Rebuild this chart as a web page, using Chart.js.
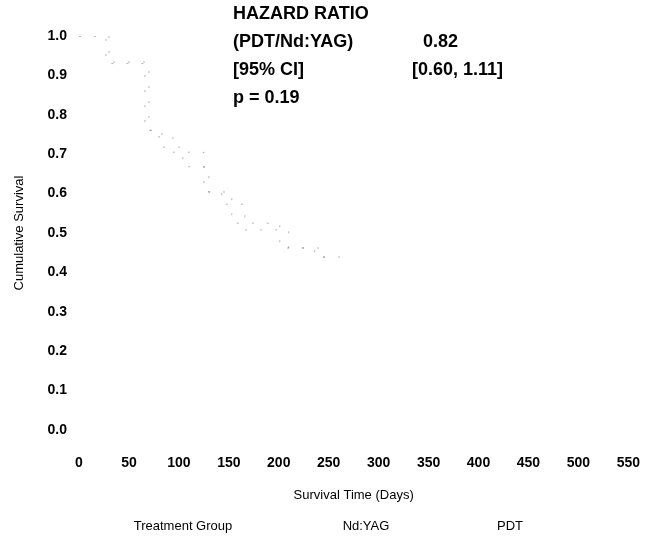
<!DOCTYPE html>
<html lang="en">
<head>
    <meta charset="utf-8" />
    <title>Cumulative Survival</title>
    <script src="https://cdn.jsdelivr.net/npm/chart.js"></script>
    <style>
        html, body { margin: 0; padding: 0; background: #fff; }
        #wrap { width: 665px; height: 541px; }
    </style>
</head>
<body>
    <div id="wrap"><canvas id="grafico" width="665" height="541"></canvas></div>

    <script>
        // dados (curvas quase apagadas no original)
        const ndyagDias = [0, 30, 70, 83, 104, 130, 147, 166, 210, 240, 262];
        const ndyagSobrevida = [1.0, 0.93, 0.76, 0.718, 0.668, 0.604, 0.573, 0.508, 0.462, 0.439, 0.439];
        const pdtDias = [0, 27, 66, 75, 94, 125, 143, 153, 201, 236, 250];
        const pdtSobrevida = [1.0, 0.934, 0.761, 0.744, 0.705, 0.604, 0.591, 0.525, 0.462, 0.439, 0.439];

        const serieNomes = ['Nd:YAG', 'PDT'];
        const tituloLegenda = 'Treatment Group';
        const eixoX = { min: 0, max: 550, passo: 50, titulo: 'Survival Time (Days)' };
        const eixoY = { min: 0, max: 1, passo: 0.1, titulo: 'Cumulative Survival' };

        const textoHR = [
            ['HAZARD RATIO', ''],
            ['(PDT/Nd:YAG)', '0.82'],
            ['[95% CI]', '[0.60, 1.11]'],
            ['p = 0.19', '']
        ];

        const fonte = 'Liberation Sans, Arial, sans-serif';

        const pontos = (xs, ys) => xs.map((d, i) => ({ x: d, y: ys[i] }));

        // texto do hazard ratio e legenda desenhados por cima
        const textoExtra = {
            id: 'textoExtra',
            afterDraw(chart) {
                const ctx = chart.ctx;
                ctx.save();
                ctx.fillStyle = '#000';
                ctx.textBaseline = 'middle';
                ctx.textAlign = 'left';
                ctx.font = 'bold 18px ' + fonte;
                textoHR.forEach((linha, i) => {
                    const y = 14 + i * 28;
                    ctx.fillText(linha[0], 233, y);
                    if (i === 1) ctx.fillText(linha[1], 423, y);
                    if (i === 2) ctx.fillText(linha[1], 412, y);
                });

                ctx.font = '13px ' + fonte;
                ctx.textAlign = 'center';
                ctx.fillText(tituloLegenda, 183, 526);
                ctx.fillText(serieNomes[0], 366, 526);
                ctx.fillText(serieNomes[1], 510, 526);
                ctx.restore();
            }
        };

        const estiloCurva = {
            borderColor: 'rgba(40,40,40,0.35)',
            borderWidth: 1,
            borderDash: [2, 13],
            pointRadius: 0,
            fill: false,
            stepped: true
        };

        new Chart(document.getElementById('grafico'), {
            type: 'line',
            data: {
                datasets: [
                    Object.assign({ label: serieNomes[0], data: pontos(ndyagDias, ndyagSobrevida) }, estiloCurva),
                    Object.assign({ label: serieNomes[1], data: pontos(pdtDias, pdtSobrevida) }, estiloCurva)
                ]
            },
            options: {
                responsive: false,
                animation: false,
                layout: { padding: { left: 0, right: 17, top: 36, bottom: 0 } },
                plugins: { legend: { display: false }, tooltip: { enabled: false } },
                scales: {
                    x: {
                        type: 'linear',
                        min: eixoX.min,
                        max: eixoX.max,
                        grid: { display: false, drawTicks: false },
                        border: { display: false },
                        afterFit: s => { s.height = 111; },
                        ticks: {
                            stepSize: eixoX.passo,
                            padding: 25,
                            color: '#000',
                            font: { family: fonte, size: 14, weight: 'bold' }
                        },
                        title: {
                            display: true,
                            text: eixoX.titulo,
                            color: '#000',
                            padding: { top: 0, bottom: 38 },
                            font: { family: fonte, size: 13 }
                        }
                    },
                    y: {
                        min: eixoY.min,
                        max: eixoY.max,
                        grid: { display: false, drawTicks: false },
                        border: { display: false },
                        afterFit: s => { s.width = 79; },
                        ticks: {
                            stepSize: eixoY.passo,
                            padding: 12,
                            color: '#000',
                            font: { family: fonte, size: 14, weight: 'bold' },
                            callback: v => v.toFixed(1)
                        },
                        title: {
                            display: true,
                            text: eixoY.titulo,
                            color: '#000',
                            padding: { top: 12, bottom: 0 },
                            font: { family: fonte, size: 13 }
                        }
                    }
                }
            },
            plugins: [textoExtra]
        });
    </script>
</body>
</html>
